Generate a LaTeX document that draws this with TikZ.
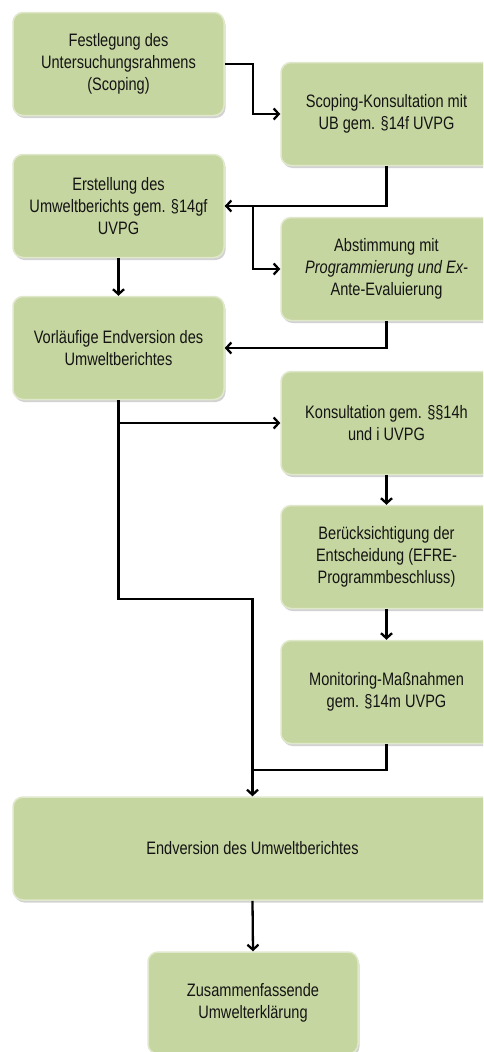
\documentclass[tikz,border=0pt]{standalone}
\usepackage{fontspec}
\newfontfamily\boxfont[FakeStretch=0.81]{Liberation Sans}
\usetikzlibrary{arrows.meta,shadows}
\definecolor{boxgreen}{RGB}{198,214,160}
\definecolor{boxtext}{RGB}{20,20,20}

\begin{document}
\begin{tikzpicture}[x=1pt,y=-1pt,
    box/.style={rectangle,rounded corners=10pt,fill=boxgreen,
      draw=boxgreen!55!white,line width=1.5pt,
      drop shadow={shadow xshift=1.5pt,shadow yshift=-2.5pt,opacity=0.35},
      minimum width=211pt,minimum height=103pt,align=center,
      text=boxtext,font=\boxfont\fontsize{18}{22}\selectfont},
    flow/.style={line width=2.3pt,-{Straight Barb[length=5pt,width=11pt]}},
    link/.style={line width=2.3pt}]
  \clip (0,0) rectangle (483,1052);
  \fill[white] (0,0) rectangle (483,1052);
  % left column
  \node[box] (fest) at (118.5,64) {Festlegung des\\Untersuchungsrahmens\\(Scoping)};
  \node[box] (erst) at (118.5,206) {Erstellung des\\Umweltberichts gem. §14gf\\UVPG};
  \node[box] (vorl) at (118.5,348) {Vorläufige Endversion des\\Umweltberichtes};
  % right column
  \node[box] (scop) at (386.5,114) {Scoping-Konsultation mit\\UB gem. §14f UVPG};
  \node[box] (abst) at (386.5,269) {Abstimmung mit\\{\itshape Programmierung und Ex-}\\Ante-Evaluierung};
  \node[box] (kons) at (386.5,423) {Konsultation gem. §§14h\\und i UVPG};
  \node[box] (beru) at (386.5,557) {Berücksichtigung der\\Entscheidung (EFRE-\\Programmbeschluss)};
  \node[box] (moni) at (386.5,692) {Monitoring-Maßnahmen\\gem. §14m UVPG};
  % bottom
  \node[box,minimum width=479pt] (endv) at (252.5,848.5) {Endversion des Umweltberichtes};
  \node[box,minimum width=210pt,minimum height=102pt] (zusa) at (253,1003) {Zusammenfassende\\Umwelterklärung};
  \coordinate (join) at (252.5,770);
  % connectors
  \draw[flow] (fest.east) -- ++(28,0) |- (scop.west);
  \draw[flow] (scop.south) |- (erst.east);
  \draw[flow] (erst.east) -- ++(28,0) |- (abst.west);
  \draw[flow] (erst.south) -- (vorl.north);
  \draw[flow] (abst.south) |- (vorl.east);
  \draw[flow] (vorl.south) -- ++(0,199) -| (endv.north);
  \draw[flow] (vorl.south |- kons.west) -- (kons.west);
  \draw[flow] (kons.south) -- (beru.north);
  \draw[flow] (beru.south) -- (moni.north);
  \draw[link] (moni.south) |- (join);
  \draw[flow] (endv.south) -- (zusa.north);
\end{tikzpicture}
\end{document}
